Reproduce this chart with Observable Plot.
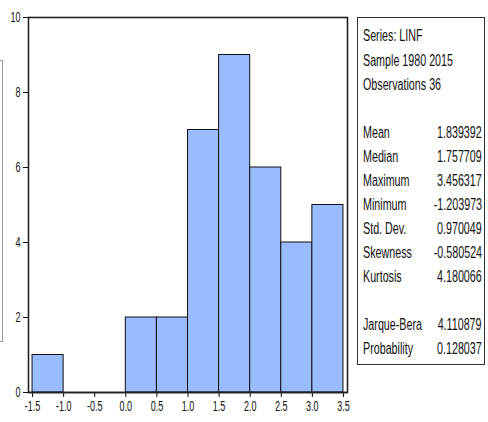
<!DOCTYPE html>
<html>
<head>
<meta charset="utf-8">
<script src="https://cdn.jsdelivr.net/npm/d3@7"></script>
<script src="https://cdn.jsdelivr.net/npm/@observablehq/plot@0.6"></script>
<style>
  html, body { margin: 0; padding: 0; background: #fff; }
  #wrap { position: relative; width: 488px; height: 422px; overflow: hidden;
          font-family: "Liberation Sans", Arial, sans-serif; }
  #chart { position: absolute; left: 0; top: 0; }
  #chart svg { overflow: visible; }
  #bracket { position: absolute; left: -2px; top: 60px; width: 4px; height: 280px;
             border: 1px solid #999; border-left: none; }
  #stats { position: absolute; left: 357px; top: 17px; width: 128px; height: 348px;
           border: 1px solid #333; box-sizing: border-box; font-size: 16px; color: #111; }
  #stats .row { position: absolute; left: 5px; right: 2px; height: 18px; line-height: 18px; white-space: nowrap; }
  #stats .lab { position: absolute; left: 0; top: 0; transform: scaleX(0.67); transform-origin: left center; }
  #stats .val { position: absolute; right: 0; top: 0; transform: scaleX(0.67); transform-origin: right center; }
</style>
</head>
<body>
<div id="wrap">
  <div id="bracket"></div>
  <div id="chart"></div>
  <div id="stats"></div>
</div>
<script>
// Histogram bins (edges) and counts
const binStart = [-1.5, -1.0, -0.5, 0.0, 0.5, 1.0, 1.5, 2.0, 2.5, 3.0];
const binEnd   = [-1.0, -0.5,  0.0, 0.5, 1.0, 1.5, 2.0, 2.5, 3.0, 3.5];
const counts   = [1, 0, 0, 2, 2, 7, 9, 6, 4, 5];
const xTicks = [-1.5, -1.0, -0.5, 0.0, 0.5, 1.0, 1.5, 2.0, 2.5, 3.0, 3.5];
const yTicks = [0, 2, 4, 6, 8, 10];

// Statistics panel
const headerLines = ["Series: LINF", "Sample 1980 2015", "Observations 36"];
const statLabels = ["Mean", "Median", "Maximum", "Minimum", "Std. Dev.", "Skewness", "Kurtosis"];
const statValues = ["1.839392", "1.757709", "3.456317", "-1.203973", "0.970049", "-0.580524", "4.180066"];
const testLabels = ["Jarque-Bera", "Probability"];
const testValues = ["4.110879", "0.128037"];

const bins = binStart.map((s, i) => ({x1: s, x2: binEnd[i], y: counts[i]}));

const chart = Plot.plot({
  width: 350,
  height: 422,
  marginLeft: 28,
  marginRight: 3,
  marginTop: 17,
  marginBottom: 30,
  style: {fontFamily: `"Liberation Sans", Arial, sans-serif`, fontSize: "15px", color: "#111", background: "transparent"},
  x: {domain: [-1.565, 3.565], label: null},
  y: {domain: [0, 10], label: null},
  marks: [
    Plot.rectY(bins.filter(d => d.y > 0), {x1: "x1", x2: "x2", y: "y", fill: "#99bbff", stroke: "#111", strokeWidth: 1}),
    Plot.frame({stroke: "#222", strokeWidth: 1.6}),
    Plot.axisX({ticks: xTicks, tickFormat: d => d.toFixed(1), tickSize: 5, tickPadding: 3, fontSize: 15}),
    Plot.axisY({ticks: yTicks, tickFormat: d => String(d), tickSize: 5, tickPadding: 3, fontSize: 15}),
    Plot.ruleY([0], {stroke: "#222", strokeWidth: 1.6})
  ]
});
document.getElementById("chart").appendChild(chart);

// Condense tick labels horizontally (narrow font look) without moving their anchors
chart.querySelectorAll("text").forEach(t => {
  const w = t.getComputedTextLength();
  if (w > 0) {
    t.setAttribute("textLength", (w * 0.6).toFixed(2));
    t.setAttribute("lengthAdjust", "spacingAndGlyphs");
  }
});

// Build stats box rows
const stats = document.getElementById("stats");
function addRow(top, label, value) {
  const r = document.createElement("div");
  r.className = "row";
  r.style.top = top + "px";
  const a = document.createElement("span"); a.className = "lab"; a.textContent = label;
  r.appendChild(a);
  if (value) { const b = document.createElement("span"); b.className = "val"; b.textContent = value; r.appendChild(b); }
  stats.appendChild(r);
}
headerLines.forEach((t, i) => addRow(9 + i * 24.5, t, ""));
statLabels.forEach((t, i) => addRow(105.5 + i * 24, t, statValues[i]));
testLabels.forEach((t, i) => addRow(297.5 + i * 24, t, testValues[i]));
</script>
</body>
</html>
